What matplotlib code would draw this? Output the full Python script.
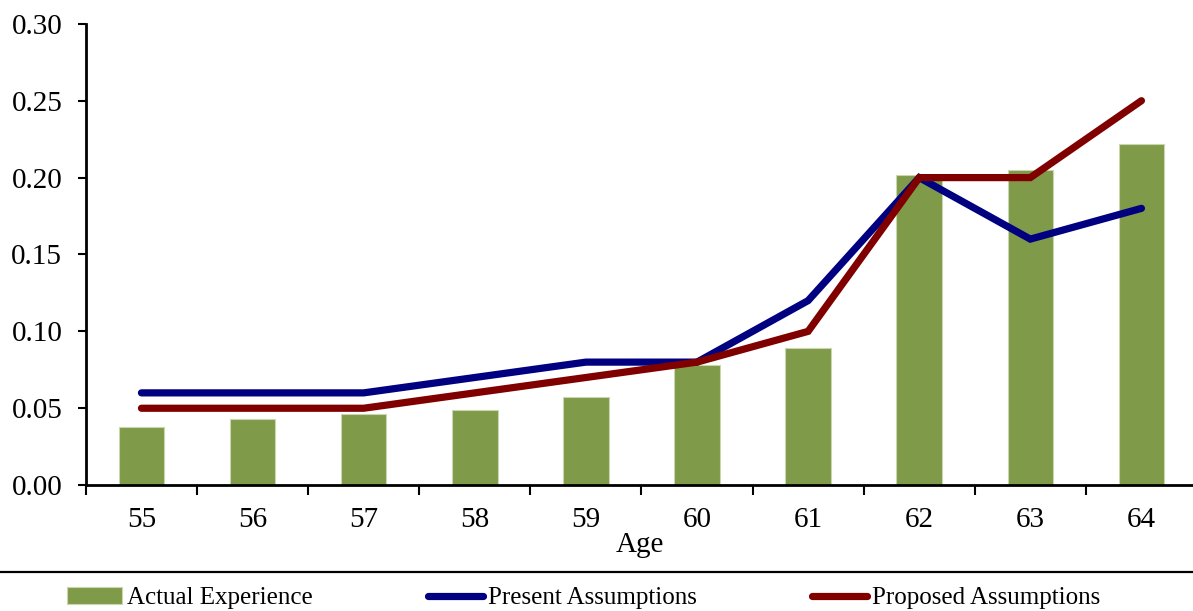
import matplotlib

matplotlib.use("Agg")
import matplotlib.pyplot as plt
from matplotlib.lines import Line2D
from matplotlib.ticker import FixedLocator, FormatStrFormatter

ages = ["55", "56", "57", "58", "59", "60", "61", "62", "63", "64"]
actual_experience = [0.038, 0.043, 0.046, 0.049, 0.057, 0.078, 0.089, 0.202, 0.205, 0.222]
present_assumptions = [0.06, 0.06, 0.06, 0.07, 0.08, 0.08, 0.12, 0.20, 0.16, 0.18]
proposed_assumptions = [0.05, 0.05, 0.05, 0.06, 0.07, 0.08, 0.10, 0.20, 0.20, 0.25]

plt.rcParams["font.family"] = ["Liberation Serif", "DejaVu Serif"]

fig = plt.figure(figsize=(11.93, 6.11), dpi=100)
ax = fig.add_axes([0.072, 0.206, 0.928, 0.755])

x = list(range(len(ages)))
ax.bar(x, actual_experience, width=0.41, color="#7F9A48", edgecolor="#C9D6B0",
       linewidth=0.8, label="Actual Experience", zorder=2)
ax.plot(x, present_assumptions, color="#000080", linewidth=5.2,
        solid_capstyle="round", solid_joinstyle="miter", label="Present Assumptions", zorder=3)
ax.plot(x, proposed_assumptions, color="#800000", linewidth=5.2,
        solid_capstyle="round", solid_joinstyle="miter", label="Proposed Assumptions", zorder=4)

ax.set_xlim(-0.5, 9.464)
ax.set_ylim(0, 0.30)
ax.set_yticks([0.0, 0.05, 0.10, 0.15, 0.20, 0.25, 0.30])
ax.yaxis.set_major_formatter(FormatStrFormatter("%.2f"))
ax.set_xticks(x)
ax.set_xticklabels(ages)
ax.xaxis.set_minor_locator(FixedLocator([i - 0.5 for i in range(len(ages) + 1)]))
ax.tick_params(axis="x", which="major", length=0, pad=16, labelsize=21)
ax.tick_params(axis="x", which="minor", length=7, width=1.5, direction="out")
ax.tick_params(axis="y", length=6, width=1.5, direction="out", pad=11, labelsize=21)

for side in ("top", "right"):
    ax.spines[side].set_visible(False)
for side in ("left", "bottom"):
    ax.spines[side].set_linewidth(2)

ax.set_xlabel("Age", fontsize=21, labelpad=-1)

# separator above the legend
fig.add_artist(Line2D([0, 1], [1 - 572 / 611, 1 - 572 / 611], color="black",
                      linewidth=1.6, transform=fig.transFigure))

handles, labels = ax.get_legend_handles_labels()
order = [2, 0, 1]
fig.legend([handles[i] for i in order], [labels[i] for i in order],
           loc="center left", bbox_to_anchor=(0.048, 1 - 598 / 611), ncol=3,
           frameon=False, fontsize=18, handlelength=2.2, handleheight=0.7,
           handletextpad=0.2, columnspacing=4.6, borderaxespad=0)

fig.savefig("out.png", dpi=100)
